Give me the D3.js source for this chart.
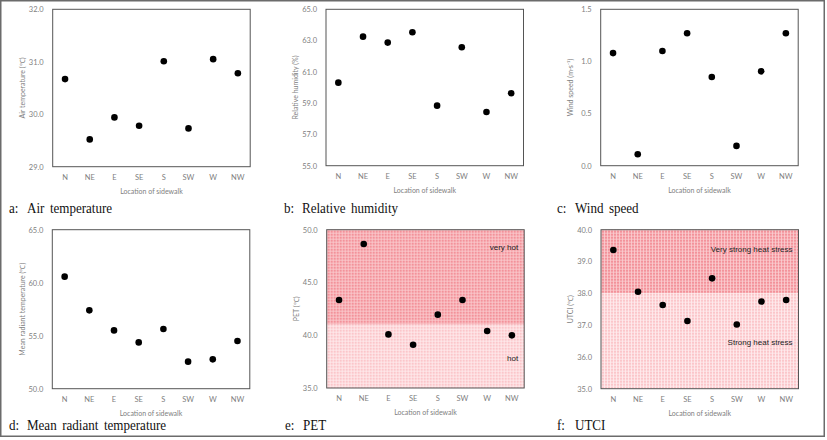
<!DOCTYPE html>
<html><head><meta charset="utf-8">
<script src="https://cdn.jsdelivr.net/npm/d3@7"></script>
<style>
html,body{margin:0;padding:0;background:#fff;}
svg{display:block;}
</style></head>
<body>
<svg id="chart" width="827" height="440"></svg>
<script>
const categories = ["N","NE","E","SE","S","SW","W","NW"];
const airTemp = [30.67, 29.52, 29.94, 29.78, 31.01, 29.73, 31.05, 30.78];
const relHumidity = [60.31, 63.25, 62.87, 63.53, 58.84, 62.57, 58.43, 59.63];
const windSpeed = [1.08, 0.11, 1.10, 1.27, 0.85, 0.19, 0.905, 1.27];
const mrt = [60.57, 57.39, 55.50, 54.37, 55.63, 52.55, 52.77, 54.50];
const pet = [43.34, 48.64, 40.08, 39.10, 41.95, 43.34, 40.40, 39.99];
const utci = [39.36, 38.05, 37.63, 37.13, 38.47, 37.02, 37.74, 37.79];

const ticksA = [29, 30, 31, 32];
const ticksB = [55, 57, 59, 61, 63, 65];
const ticksC = [0, 0.5, 1.0, 1.5];
const ticksD = [50, 55, 60, 65];
const ticksE = [35, 40, 45, 50];
const ticksF = [35, 36, 37, 38, 39, 40];

const petThreshold = 41;
const utciThreshold = 38;

const svg = d3.select("#chart");

// patterns
const defs = svg.append("defs");
function makePattern(id, bg, line) {
  const p = defs.append("pattern").attr("id", id).attr("patternUnits", "userSpaceOnUse")
    .attr("width", 3).attr("height", 3);
  p.append("rect").attr("width", 3).attr("height", 3).attr("fill", bg);
  p.append("rect").attr("x", 0).attr("y", 0).attr("width", 3).attr("height", 0.8).attr("fill", line);
  p.append("rect").attr("x", 0).attr("y", 0).attr("width", 0.8).attr("height", 3).attr("fill", line);
}
makePattern("darkPink", "#f3929a", "#fbd0d3");
makePattern("lightPink", "#fbc6ca", "#ffeef0");

// outer border
svg.append("rect").attr("x", 0.75).attr("y", 0.75).attr("width", 823.5).attr("height", 435.5)
  .attr("fill", "none").attr("stroke", "#6b6b6b").attr("stroke-width", 1.5);

const panels = [
  {left: 52.7, top: 9.3, h: 157.4, data: airTemp, dom: [29, 32], ticks: ticksA, fmt: d3.format(".1f"),
   ytitle: "Air temperature (℃)", letter: "a:", caption: "Air temperature", capX: 9, capY: 212.5},
  {left: 326, top: 9.3, h: 156.4, data: relHumidity, dom: [55, 65], ticks: ticksB, fmt: d3.format(".1f"),
   ytitle: "Relative humidity (%)", letter: "b:", caption: "Relative humidity", capX: 284, capY: 212.5},
  {left: 600.7, top: 9.3, h: 156.4, data: windSpeed, dom: [0, 1.5], ticks: ticksC, fmt: d3.format(".1f"),
   ytitle: "Wind speed (m·s⁻¹)", letter: "c:", caption: "Wind speed", capX: 557, capY: 212.5},
  {left: 52.3, top: 229.7, h: 159, data: mrt, dom: [50, 65], ticks: ticksD, fmt: d3.format(".1f"),
   ytitle: "Mean radiant temperature (℃)", letter: "d:", caption: "Mean radiant temperature", capX: 9, capY: 430},
  {left: 326.7, top: 229.7, h: 158.3, data: pet, dom: [35, 50], ticks: ticksE, fmt: d3.format(".1f"),
   ytitle: "PET (℃)", letter: "e:", caption: "PET", capX: 285, capY: 430,
   zone: {thr: petThreshold, upper: "very hot", lower: "hot", upperVal: 48.3, lowerVal: 37.8}},
  {left: 601, top: 229.7, h: 159, data: utci, dom: [35, 40], ticks: ticksF, fmt: d3.format(".1f"),
   ytitle: "UTCI (℃)", letter: "f:", caption: "UTCI", capX: 557, capY: 430,
   zone: {thr: utciThreshold, upper: "Very strong heat stress", lower: "Strong heat stress", upperVal: 39.4, lowerVal: 36.45}}
];

const plotW = 197.5;
const tickFont = "Lato, 'Open Sans', sans-serif";

panels.forEach(p => {
  const g = svg.append("g").attr("transform", `translate(${p.left},${p.top})`);
  const x = d3.scaleBand().domain(categories).range([0, plotW]);
  const y = d3.scaleLinear().domain(p.dom).range([p.h, 0]);

  if (p.zone) {
    g.append("rect").attr("x", 0).attr("y", 0).attr("width", plotW).attr("height", y(p.zone.thr))
      .attr("fill", "url(#darkPink)");
    g.append("rect").attr("x", 0).attr("y", y(p.zone.thr)).attr("width", plotW).attr("height", p.h - y(p.zone.thr))
      .attr("fill", "url(#lightPink)");
    g.append("text").attr("x", plotW - 6).attr("y", y(p.zone.upperVal)).attr("dy", "0.35em")
      .attr("text-anchor", "end").attr("font-family", "Arial, 'Liberation Sans', sans-serif")
      .attr("font-size", 8).attr("fill", "#222").text(p.zone.upper);
    g.append("text").attr("x", plotW - 6).attr("y", y(p.zone.lowerVal)).attr("dy", "0.35em")
      .attr("text-anchor", "end").attr("font-family", "Arial, 'Liberation Sans', sans-serif")
      .attr("font-size", 8).attr("fill", "#222").text(p.zone.lower);
  }

  // frame
  g.append("rect").attr("x", 0).attr("y", 0).attr("width", plotW).attr("height", p.h)
    .attr("fill", "none").attr("stroke", "#555").attr("stroke-width", 1);

  // y axis
  const ya = g.append("g").call(d3.axisLeft(y).tickValues(p.ticks).tickFormat(p.fmt).tickSize(0).tickPadding(9));
  ya.select(".domain").remove();
  ya.selectAll("text").attr("font-family", tickFont).attr("font-size", 7.5).attr("fill", "#808080");

  // x axis
  const xa = g.append("g").attr("transform", `translate(0,${p.h})`)
    .call(d3.axisBottom(x).tickSize(0).tickPadding(8));
  xa.select(".domain").remove();
  xa.selectAll("text").attr("font-family", tickFont).attr("font-size", 7.5).attr("fill", "#808080");

  // axis titles
  g.append("text").attr("x", plotW / 2).attr("y", p.h + 25).attr("dy", "0.35em")
    .attr("text-anchor", "middle").attr("font-family", tickFont).attr("font-size", 7)
    .attr("fill", "#808080").text("Location of sidewalk");
  g.append("text").attr("transform", `translate(-30,${p.h / 2}) rotate(-90)`).attr("dy", "0.35em")
    .attr("text-anchor", "middle").attr("font-family", tickFont).attr("font-size", 7)
    .attr("fill", "#808080").text(p.ytitle);

  // points
  g.selectAll("circle.pt").data(p.data).join("circle").attr("class", "pt")
    .attr("cx", (d, i) => x(categories[i]) + x.bandwidth() / 2)
    .attr("cy", d => y(d)).attr("r", 3.3).attr("fill", "#000");

  // caption
  const cap = svg.append("g").attr("transform", `translate(${p.capX},${p.capY}) scale(0.9,1)`);
  cap.append("text").attr("x", 0).attr("y", 0)
    .attr("font-family", "'Liberation Serif', 'DejaVu Serif', serif").attr("font-size", 14.5)
    .attr("fill", "#111").text(p.letter);
  cap.append("text").attr("x", 20).attr("y", 0)
    .attr("font-family", "'Liberation Serif', 'DejaVu Serif', serif").attr("font-size", 14.5)
    .attr("word-spacing", 2.5)
    .attr("fill", "#111").text(p.caption);
});
</script>
</body></html>
